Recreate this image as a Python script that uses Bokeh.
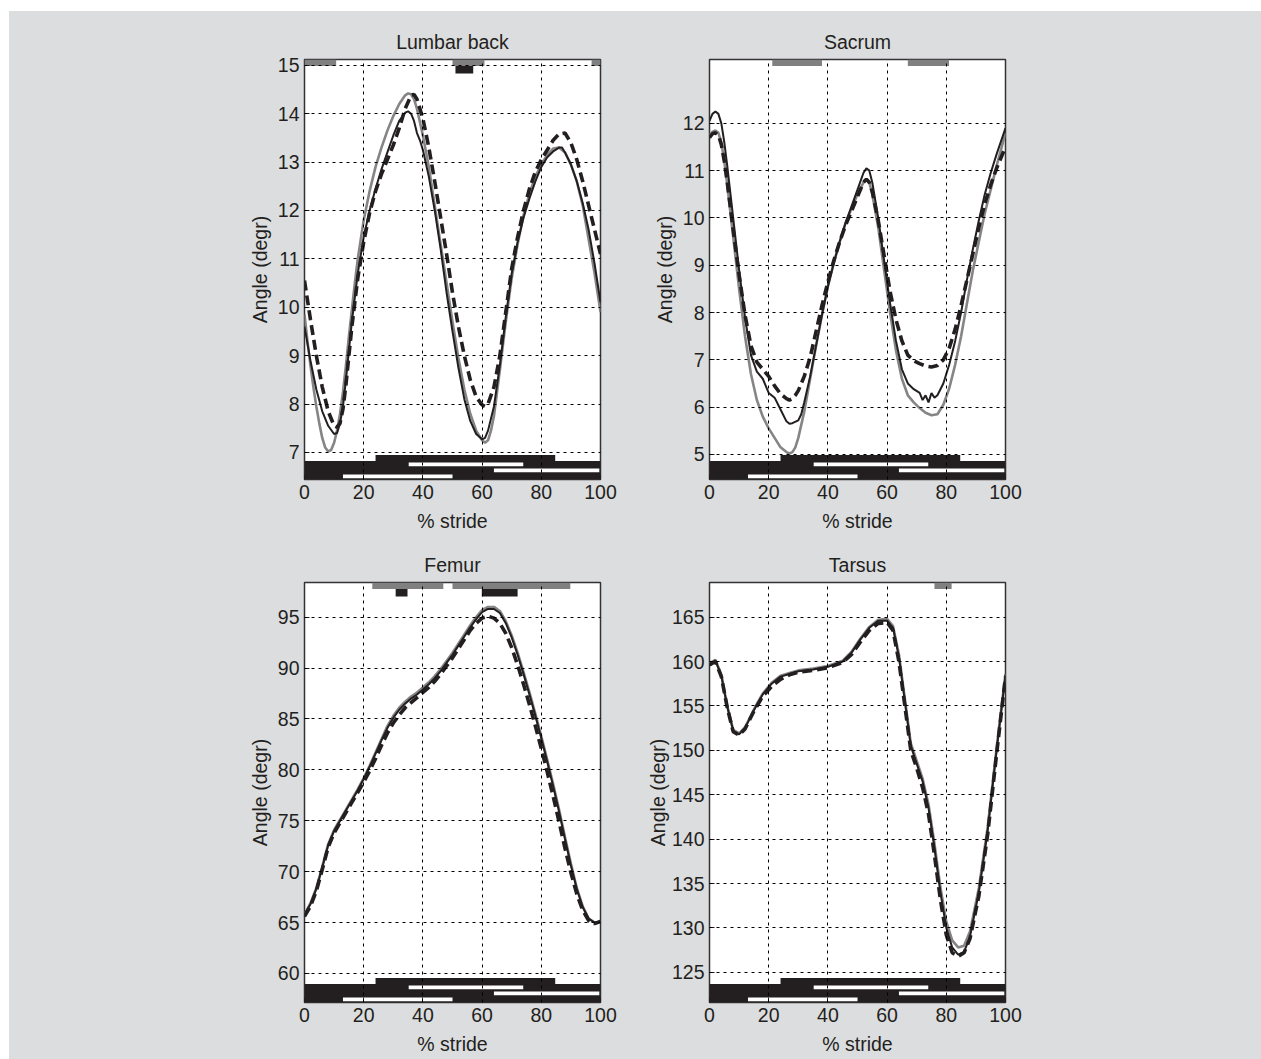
from bokeh.plotting import figure
from bokeh.layouts import column, row
from bokeh.models import FixedTicker, Range1d
from bokeh.embed import file_html
from bokeh.resources import INLINE

# ---------------- data ----------------
# Lumbar back
lum_grey_x = [0, 1, 2, 3, 4, 5, 6, 7, 8, 9, 10, 11, 12, 13, 14, 15, 16, 17, 18, 20, 22, 24, 26, 28, 30, 32, 34, 35, 36, 37, 38, 40, 42, 44, 46, 48, 50, 52, 54, 56, 58, 60, 61, 62, 63, 64, 66, 68, 70, 72, 74, 76, 78, 80, 82, 84, 86, 88, 90, 92, 94, 96, 98, 100]
lum_grey_y = [9.85, 9.3, 8.8, 8.35, 7.95, 7.6, 7.3, 7.1, 7.02, 7.05, 7.2, 7.45, 7.8, 8.25, 8.8, 9.4, 9.95, 10.5, 11.0, 11.8, 12.4, 12.9, 13.3, 13.65, 13.95, 14.2, 14.38, 14.42, 14.4, 14.3, 14.1, 13.55, 12.9, 12.1, 11.3, 10.5, 9.7, 8.95, 8.3, 7.8, 7.45, 7.25, 7.2, 7.25, 7.45, 7.75, 8.7, 9.7, 10.6, 11.3, 11.9, 12.35, 12.7, 12.95, 13.15, 13.28, 13.3, 13.2, 12.95, 12.6, 12.1, 11.4, 10.7, 9.9]
lum_black_x = [0, 2, 4, 6, 8, 10, 11, 12, 13, 14, 15, 16, 18, 20, 22, 24, 26, 28, 30, 32, 34, 35, 36, 37, 38, 39, 40, 42, 44, 46, 48, 50, 52, 54, 56, 58, 60, 61, 62, 64, 66, 68, 70, 72, 74, 76, 78, 80, 82, 84, 86, 87, 88, 90, 92, 94, 96, 98, 100]
lum_black_y = [9.6, 8.9, 8.3, 7.85, 7.55, 7.38, 7.4, 7.6, 7.95, 8.5, 9.1, 9.7, 10.7, 11.45, 12.0, 12.45, 12.85, 13.2, 13.55, 13.85, 14.02, 14.05, 14.0, 13.85, 13.6, 13.45, 13.25, 12.7, 12.0, 11.2, 10.3, 9.5, 8.75, 8.1, 7.65, 7.38, 7.27, 7.3, 7.45, 7.95, 8.8, 9.8, 10.7, 11.35, 11.85, 12.25, 12.6, 12.9, 13.1, 13.22, 13.3, 13.3, 13.2, 12.95, 12.6, 12.15, 11.6, 10.9, 10.1]
lum_dash_x = [0, 2, 4, 6, 8, 10, 11, 12, 13, 14, 15, 16, 18, 20, 22, 24, 26, 28, 30, 32, 34, 36, 37, 38, 40, 42, 44, 46, 48, 50, 52, 54, 56, 58, 60, 61, 62, 64, 66, 68, 70, 72, 74, 76, 78, 80, 82, 84, 86, 88, 90, 92, 94, 96, 98, 100]
lum_dash_y = [10.55, 9.75, 9.0, 8.35, 7.85, 7.55, 7.52, 7.6, 7.9, 8.4, 9.0, 9.6, 10.6, 11.35, 11.95, 12.4, 12.75, 13.05, 13.35, 13.7, 14.1, 14.38, 14.4, 14.3, 13.9, 13.3, 12.6, 11.85, 11.1, 10.3, 9.6, 9.0, 8.5, 8.15, 7.98, 7.95, 8.0, 8.35, 9.0, 9.9, 10.8, 11.45, 12.0, 12.45, 12.8, 13.05, 13.25, 13.45, 13.58, 13.6, 13.4, 13.05, 12.6, 12.1, 11.6, 11.1]

# Sacrum
sac_x = [0, 1, 2, 3, 4, 5, 6, 8, 10, 12, 14, 16, 18, 20, 22, 24, 26, 27, 28, 29, 30, 32, 34, 36, 38, 40, 42, 44, 46, 48, 50, 52, 53, 54, 55, 57, 59, 61, 63, 65, 67, 69, 71, 73, 75, 77, 79, 81, 83, 85, 87, 89, 91, 93, 95, 97, 100]
sac_grey_y = [11.75, 11.82, 11.85, 11.8, 11.6, 11.2, 10.7, 9.6, 8.5, 7.5, 6.7, 6.15, 5.8, 5.55, 5.35, 5.15, 5.05, 5.02, 5.05, 5.15, 5.35, 5.9, 6.6, 7.3, 7.95, 8.55, 9.05, 9.5, 9.9, 10.2, 10.5, 10.75, 10.82, 10.75, 10.5, 9.8, 8.9, 8.0, 7.2, 6.6, 6.25, 6.1, 5.98, 5.88, 5.83, 5.85, 6.05, 6.4, 6.9, 7.5, 8.2, 8.9, 9.5, 10.1, 10.6, 11.1, 11.8]
sac_dash_y = [11.7, 11.78, 11.8, 11.75, 11.55, 11.2, 10.75, 9.75, 8.8, 7.95, 7.3, 6.95, 6.8, 6.65, 6.45, 6.28, 6.18, 6.15, 6.18, 6.25, 6.35, 6.65, 7.05, 7.6, 8.15, 8.65, 9.1, 9.5, 9.85, 10.15, 10.45, 10.75, 10.82, 10.75, 10.55, 9.95, 9.2, 8.45, 7.85, 7.4, 7.1, 6.98, 6.92, 6.87, 6.85, 6.88, 7.0, 7.25, 7.65, 8.15, 8.7, 9.25, 9.8, 10.3, 10.7, 11.05, 11.5]
sac_black_x = [0, 1, 2, 3, 4, 5, 6, 8, 10, 12, 14, 16, 18, 19, 20, 22, 24, 26, 27, 28, 30, 31, 32, 34, 36, 38, 40, 42, 44, 46, 48, 50, 52, 53, 54, 55, 57, 59, 61, 63, 65, 67, 69, 71, 72, 73, 74, 75, 76, 77, 79, 81, 83, 85, 87, 89, 91, 93, 95, 97, 100]
sac_black_y = [12.05, 12.2, 12.25, 12.2, 12.0, 11.6, 11.1, 10.0, 8.9, 7.9, 7.1, 6.75, 6.6, 6.45, 6.3, 6.2, 5.95, 5.7, 5.65, 5.66, 5.72, 5.85, 6.1, 6.65, 7.3, 7.95, 8.55, 9.05, 9.5, 9.9, 10.25, 10.6, 10.95, 11.05, 11.0, 10.75, 10.0, 9.1, 8.2, 7.4, 6.8, 6.5, 6.38, 6.3, 6.15, 6.25, 6.1, 6.3, 6.2, 6.25, 6.5, 6.9, 7.4, 8.0, 8.7, 9.35, 9.95, 10.5, 10.95, 11.35, 11.9]

# Femur
fem_x = [0, 2, 4, 6, 8, 10, 12, 14, 16, 18, 20, 22, 24, 26, 28, 30, 32, 34, 36, 38, 40, 42, 44, 46, 48, 50, 52, 54, 56, 58, 60, 62, 64, 66, 68, 70, 72, 74, 76, 78, 80, 82, 84, 86, 88, 90, 92, 94, 96, 98, 100]
fem_grey_y = [65.8, 66.9, 68.4, 70.5, 72.7, 74.1, 75.1, 76.1, 77.1, 78.1, 79.2, 80.4, 81.7, 83.0, 84.3, 85.3, 86.1, 86.7, 87.2, 87.6, 88.1, 88.6, 89.2, 89.9, 90.7, 91.5, 92.4, 93.3, 94.2, 95.0, 95.7, 96.0, 96.0, 95.6, 94.6, 93.2, 91.5, 89.6, 87.6, 85.5, 83.3, 81.0, 78.6, 76.1, 73.4, 70.8, 68.4, 66.6, 65.4, 65.0, 65.1]
fem_black_y = [65.8, 66.8, 68.3, 70.4, 72.6, 74.0, 75.0, 76.0, 77.0, 78.0, 79.1, 80.3, 81.6, 82.9, 84.1, 85.1, 85.9, 86.5, 87.0, 87.4, 87.9, 88.4, 89.0, 89.7, 90.5, 91.3, 92.2, 93.1, 94.0, 94.8, 95.5, 95.8, 95.8, 95.4, 94.4, 93.0, 91.3, 89.4, 87.4, 85.3, 83.1, 80.8, 78.4, 75.9, 73.2, 70.6, 68.3, 66.5, 65.4, 65.0, 65.1]
fem_dash_y = [65.6, 66.6, 68.1, 70.2, 72.4, 73.8, 74.8, 75.8, 76.8, 77.8, 78.8, 79.9, 81.1, 82.4, 83.6, 84.6, 85.4, 86.1, 86.6, 87.1, 87.6, 88.1, 88.7, 89.4, 90.2, 91.0, 91.9, 92.8, 93.7, 94.4, 94.9, 95.1, 94.9, 94.4, 93.4, 92.0, 90.3, 88.4, 86.4, 84.3, 82.1, 79.8, 77.4, 74.9, 72.3, 69.9, 67.8, 66.2, 65.2, 64.9, 65.1]

# Tarsus
tar_x = [0, 2, 4, 6, 8, 10, 12, 15, 18, 21, 24, 27, 30, 35, 40, 45, 48, 51, 54, 57, 60, 62, 64, 66, 68, 70, 72, 74, 76, 78, 80, 82, 84, 86, 88, 91, 94, 97, 100]
tar_grey_y = [159.8, 160.2, 158.5, 155.0, 152.3, 151.9, 152.6, 154.6, 156.4, 157.6, 158.4, 158.7, 159.0, 159.2, 159.5, 160.1, 161.1, 162.6, 163.9, 164.7, 164.8, 164.0, 160.8, 155.8, 150.8, 148.8, 146.8, 143.9, 139.5, 134.6, 130.7, 128.6, 127.8, 128.0, 129.6, 134.5, 141.4, 150.3, 158.6]
tar_black_y = [159.7, 160.1, 158.4, 154.9, 152.2, 151.8, 152.5, 154.5, 156.3, 157.5, 158.3, 158.6, 158.9, 159.1, 159.4, 160.0, 161.0, 162.5, 163.8, 164.6, 164.6, 163.8, 160.5, 155.5, 150.5, 148.5, 146.5, 143.5, 139.0, 134.0, 130.0, 127.8, 127.0, 127.3, 129.0, 134.0, 141.0, 150.0, 158.5]
tar_dash_y = [159.6, 160.0, 158.3, 154.8, 152.1, 151.7, 152.4, 154.4, 156.1, 157.2, 158.0, 158.5, 158.8, 159.0, 159.3, 159.9, 160.8, 162.2, 163.5, 164.3, 164.4, 163.5, 160.0, 155.0, 150.0, 148.0, 145.8, 142.8, 138.2, 133.2, 129.2, 127.2, 126.8, 127.2, 128.8, 133.6, 140.6, 149.6, 158.3]

# significance bars at top (% stride intervals)
lum_top_grey = [(0, 10.7), (50, 60.8), (97, 100)]
lum_top_black = [(51, 57)]
sac_top_grey = [(21.2, 38), (67, 80.9)]
sac_top_black = []
fem_top_grey = [(22.9, 46.9), (50, 89.8)]
fem_top_black = [(30.8, 34.8), (59.9, 72)]
tar_top_grey = [(76, 81.8)]
tar_top_black = []

# footfall pattern at bottom (% stride)
foot_row1_stance = [(24, 84.7)]
foot_row2_swing = [(35.2, 73.9)]
foot_row3_swing = [(64, 99.6)]
foot_row4_swing = [(13, 50)]

x_ticks = [0, 20, 40, 60, 80, 100]

BG = "#dcdddf"
INK = "#231f20"
GREY = "#858585"
FONT = "Liberation Sans"
FS = "19.5px"


def make_panel(title, ylo, yhi, yticks, grey, black, dash, top_grey, top_black,
               bl, br, bt, bb, ylab_standoff):
    p = figure(frame_width=296, frame_height=420, output_backend="svg",
               toolbar_location=None, x_range=Range1d(0, 100),
               y_range=Range1d(ylo, yhi), title=title,
               min_border_left=bl, min_border_right=br,
               min_border_top=bt, min_border_bottom=bb)
    p.background_fill_color = "white"
    p.border_fill_color = BG
    p.outline_line_color = "#333333"
    p.outline_line_width = 1.5
    p.title.align = "center"
    p.title.text_font = FONT
    p.title.text_font_size = FS
    p.title.text_font_style = "normal"
    p.title.text_color = INK
    p.title.standoff = 14

    for ax in (p.xaxis[0], p.yaxis[0]):
        ax.axis_line_color = None
        ax.major_tick_in = 5
        ax.major_tick_out = 0
        ax.minor_tick_line_color = None
        ax.major_tick_line_color = INK
        ax.major_label_text_font = FONT
        ax.major_label_text_font_size = FS
        ax.major_label_text_color = INK
        ax.axis_label_text_font = FONT
        ax.axis_label_text_font_size = FS
        ax.axis_label_text_font_style = "normal"
        ax.axis_label_text_color = INK
        ax.major_label_standoff = 5
    p.xaxis.ticker = FixedTicker(ticks=x_ticks)
    p.yaxis.ticker = FixedTicker(ticks=yticks)
    p.xaxis.axis_label = "% stride"
    p.yaxis.axis_label = "Angle (degr)"
    p.xaxis.axis_label_standoff = 8
    p.yaxis.axis_label_standoff = ylab_standoff

    for g in (p.xgrid[0], p.ygrid[0]):
        g.grid_line_color = "black"
        g.grid_line_dash = "3 4"
        g.grid_line_width = 1
        g.level = "overlay"

    span = yhi - ylo
    px = span / 420.0

    # top significance bars
    for a, b in top_grey:
        p.quad(left=a, right=b, top=yhi, bottom=yhi - 6.5 * px,
               fill_color="#808080", line_color=None)
    for a, b in top_black:
        p.quad(left=a, right=b, top=yhi - 6.5 * px, bottom=yhi - 14 * px,
               fill_color=INK, line_color=None)

    # footfall diagram at bottom
    p.quad(left=0, right=100, bottom=ylo, top=ylo + 18.5 * px,
           fill_color=INK, line_color=None)
    for a, b in foot_row1_stance:
        p.quad(left=a, right=b, bottom=ylo + 18 * px, top=ylo + 24.5 * px,
               fill_color=INK, line_color=None)
    for rows, k in ((foot_row2_swing, 2), (foot_row3_swing, 1), (foot_row4_swing, 0)):
        for a, b in rows:
            p.quad(left=a, right=b, bottom=ylo + (6 * k + 1.2) * px,
                   top=ylo + (6 * k + 5.0) * px, fill_color="white", line_color=None)

    p.line(grey[0], grey[1], line_color=GREY, line_width=2.6)
    p.line(black[0], black[1], line_color=INK, line_width=2.0)
    p.line(dash[0], dash[1], line_color=INK, line_width=3.6, line_dash="10 5")
    return p


# layout (after a 9px / 11px white page margin):
# left frames at x 295..591, right frames at 700..996; top frames y 48..468, bottom 571..991
p1 = make_panel("Lumbar back", 6.44, 15.12, [7, 8, 9, 10, 11, 12, 13, 14, 15],
                (lum_grey_x, lum_grey_y), (lum_black_x, lum_black_y), (lum_dash_x, lum_dash_y),
                lum_top_grey, lum_top_black, 295, 40, 48, 61, 4)
p2 = make_panel("Sacrum", 4.47, 13.35, [5, 6, 7, 8, 9, 10, 11, 12],
                (sac_x, sac_grey_y), (sac_black_x, sac_black_y), (sac_x, sac_dash_y),
                sac_top_grey, sac_top_black, 69, 256, 48, 61, 4)
p3 = make_panel("Femur", 57.15, 98.4, [60, 65, 70, 75, 80, 85, 90, 95],
                (fem_x, fem_grey_y), (fem_x, fem_black_y), (fem_x, fem_dash_y),
                fem_top_grey, fem_top_black, 295, 40, 42, 57, 4)
p4 = make_panel("Tarsus", 121.6, 168.9, [125, 130, 135, 140, 145, 150, 155, 160, 165],
                (tar_x, tar_grey_y), (tar_x, tar_black_y), (tar_x, tar_dash_y),
                tar_top_grey, tar_top_black, 69, 256, 42, 57, 0)

layout = column(row(p1, p2, spacing=0), row(p3, p4, spacing=0), spacing=0)
layout.styles = {"background-color": BG, "margin-left": "9px", "margin-top": "11px"}

open("out.html", "w").write(file_html(layout, INLINE))
